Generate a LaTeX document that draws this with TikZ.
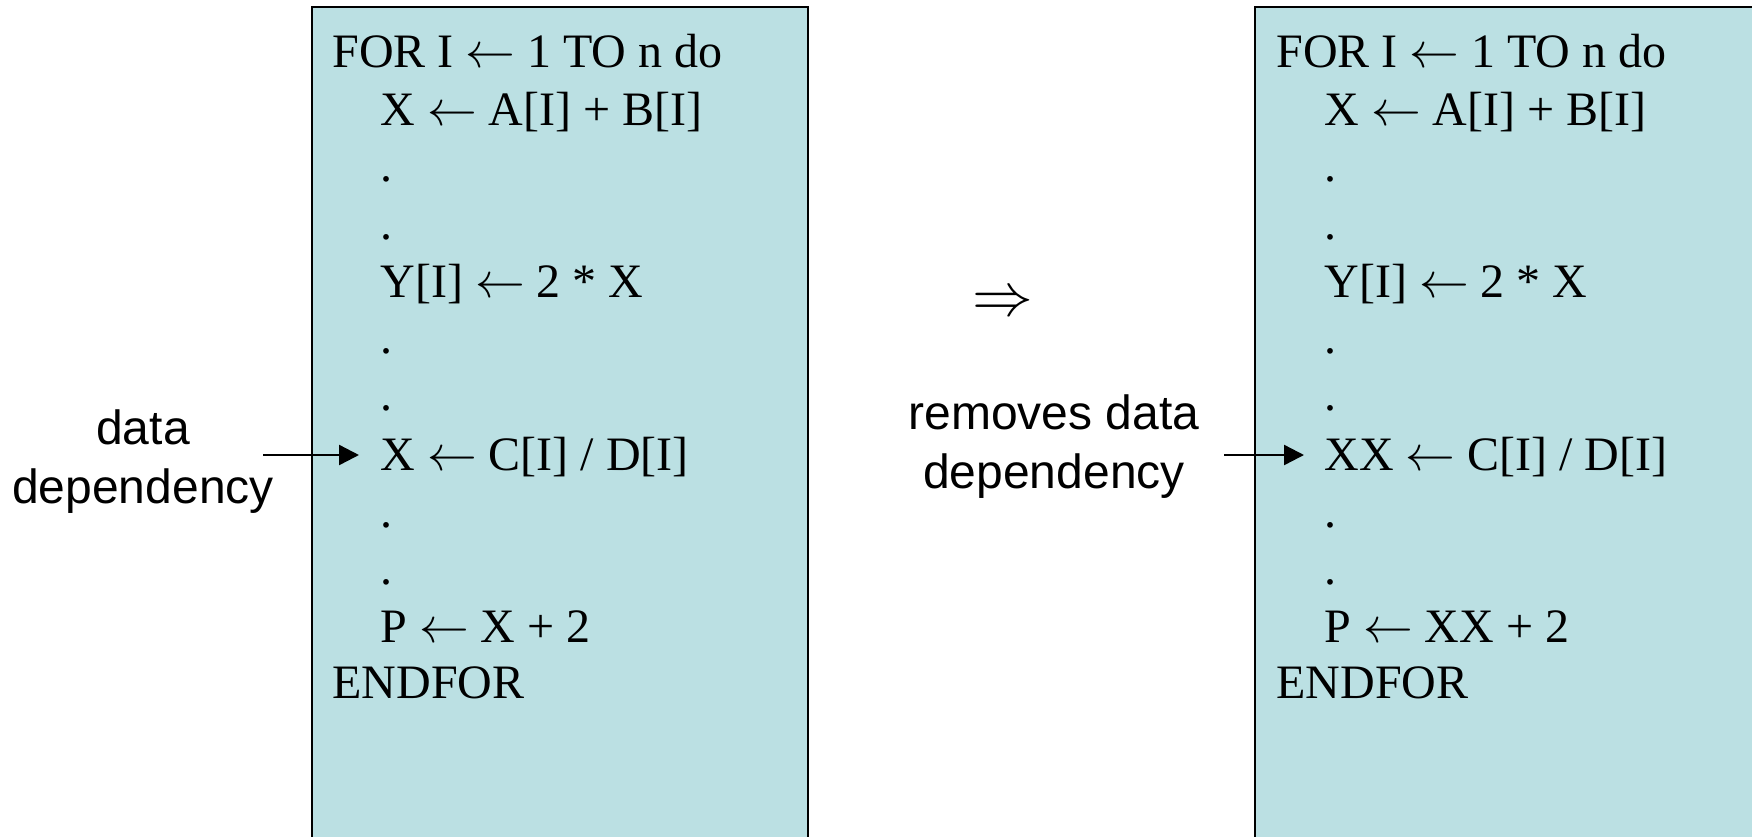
\documentclass[tikz,border=0pt]{standalone}
\usepackage{fontspec}
\setmainfont{Liberation Serif}
\newfontfamily\labelfont{Liberation Sans}
\usetikzlibrary{arrows.meta}
\definecolor{boxfill}{RGB}{187,224,227}
\newcommand\getsarrow{$\leftarrow$}
\begin{document}
\begin{tikzpicture}[x=0.5pt,y=-0.5pt,
  codeline/.style={anchor=base west,inner sep=0pt,font=\fontsize{24}{28}\selectfont},
  note/.style={align=center,inner sep=0pt,font=\labelfont\fontsize{24}{29.5}\selectfont},
  codebox/.style={draw=black,line width=1pt,fill=boxfill},
  pointer/.style={line width=1.2pt,-{Triangle[length=10pt,width=10pt]}}]
\useasboundingbox (0,0) rectangle (1752,836);

% original loop
\path[codebox] (312,7) rectangle (808,870);
\node[codeline] (L1)  at (332,67)  {FOR I \getsarrow{} 1 TO n do};
\node[codeline] (L2)  at (380,125) {X \getsarrow{} A[I] + B[I]};
\node[codeline] (L3)  at (380,181) {.};
\node[codeline] (L4)  at (380,239) {.};
\node[codeline] (L5)  at (380,297) {Y[I] \getsarrow{} 2 * X};
\node[codeline] (L6)  at (380,353) {.};
\node[codeline] (L7)  at (380,410) {.};
\node[codeline] (L8)  at (380,470) {X \getsarrow{} C[I] / D[I]};
\node[codeline] (L9)  at (380,527) {.};
\node[codeline] (L10) at (380,584) {.};
\node[codeline] (L11) at (380,642) {P \getsarrow{} X + 2};
\node[codeline] (L12) at (332,698) {ENDFOR};

% renamed loop
\path[codebox] (1255,7) rectangle (1770,870);
\node[codeline] (R1)  at (1276,67)  {FOR I \getsarrow{} 1 TO n do};
\node[codeline] (R2)  at (1324,125) {X \getsarrow{} A[I] + B[I]};
\node[codeline] (R3)  at (1324,181) {.};
\node[codeline] (R4)  at (1324,239) {.};
\node[codeline] (R5)  at (1324,297) {Y[I] \getsarrow{} 2 * X};
\node[codeline] (R6)  at (1324,353) {.};
\node[codeline] (R7)  at (1324,410) {.};
\node[codeline] (R8)  at (1324,470) {XX \getsarrow{} C[I] / D[I]};
\node[codeline] (R9)  at (1324,527) {.};
\node[codeline] (R10) at (1324,584) {.};
\node[codeline] (R11) at (1324,642) {P \getsarrow{} XX + 2};
\node[codeline] (R12) at (1276,698) {ENDFOR};

% labels and pointers
\node[note] (dep) at (143,462) {data\\dependency};
\coordinate (srcL) at (263,455);
\draw[pointer,shorten >=10.5pt] (srcL) -- (srcL -| L8.west);

\node[inner sep=0pt,scale=1.22,font=\fontsize{24}{28}\selectfont] (impl) at (1003,304) {$\Rightarrow$};

\node[note] (rem) at (1054,447) {removes data\\dependency};
\coordinate (srcR) at (1224,455);
\draw[pointer,shorten >=10pt] (srcR) -- (srcR -| R8.west);
\end{tikzpicture}
\end{document}
